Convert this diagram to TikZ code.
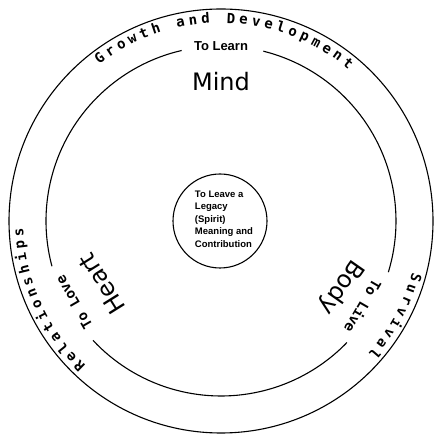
\documentclass[tikz,border=0pt]{standalone}
\usepackage{fontspec}
\setmainfont{Liberation Sans}
\newfontfamily\ringfont{DejaVu Sans Mono}
\newfontfamily\wordfont{DejaVu Sans}
\newcommand\ringsize{\ringfont\bfseries\fontsize{14}{16}\selectfont}
\usetikzlibrary{decorations.text}
\tikzset{
 ring/.style={line width=1.1pt},
 ringtext/.style={decorate,decoration={text along path,text align={fit to path},text={|\ringsize|#1}}},
 bigword/.style={font=\wordfont\fontsize{24}{24}\selectfont,inner sep=0pt},
 gapword/.style={font=\ringfont\bfseries\fontsize{14}{14}\selectfont,inner sep=1pt},
}
\begin{document}
\begin{tikzpicture}[x=1pt,y=1pt]
\useasboundingbox (-221,-214) rectangle (213,221);
\draw[ring] (0,0) circle[radius=212];
\foreach \a/\b in {103/195,223/316,-17/76}{
 \draw[ring] (\a:175) arc[start angle=\a,end angle=\b,radius=175];
}
\draw[ring] (-1,0) circle[radius=47];
% words on the outer ring
\path[ringtext={Growth and Development}] (128:198) arc[start angle=128,end angle=50,radius=198];
\path[ringtext={Relationships}] (227:198) arc[start angle=227,end angle=182,radius=198];
\path[ringtext={Survival}] (-15:198) arc[start angle=-15,end angle=-42,radius=198];
% words in the gaps
\node[font=\bfseries\fontsize{13}{13}\selectfont,inner sep=1pt] (tolearn) at (90:175) {To Learn};
\node[gapword,rotate=120] (tolove) at (209:168) {To Love};
\node[gapword,rotate=-120] (tolive) at (-31:166) {To Live};
\node[bigword] (mind) at (0,139) {Mind};
\node[bigword,rotate=122] (heart) at (-119,-63) {Heart};
\node[bigword,rotate=-125] (body) at (120,-66) {Body};
\node[align=left,font=\bfseries\fontsize{9.5}{12.5}\selectfont] (legacy) at (3,2)
 {To Leave a\\Legacy\\(Spirit)\\Meaning and\\Contribution};
\end{tikzpicture}
\end{document}
